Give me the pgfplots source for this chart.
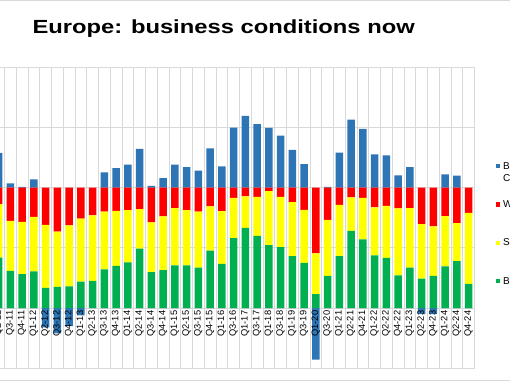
\documentclass[border=0pt]{standalone}
\usepackage{pgfplots}
\pgfplotsset{compat=1.18}
\usepackage{pgfplotstable}
\usepackage{graphicx}
\usepackage{fontspec}
\setmainfont{Liberation Sans}

\definecolor{cblue}{HTML}{2E75B6}
\definecolor{cred}{HTML}{FF0000}
\definecolor{cyel}{HTML}{FFFF00}
\definecolor{cgreen}{HTML}{00B050}
\definecolor{cgrid}{HTML}{D9D9D9}

\pgfplotstableread{
k   G     Y     R     Bp    Bn
-1  41.9  44.3  13.8  28.5  0
0   30.8  41.5  27.7  3.5   0
1   28.1  43.4  28.5  0.5   0
2   30.4  45.3  24.3  6.8   0
3   16.7  52.2  31.1  0     -16
4   17.6  45.7  36.7  0     -21
5   17.9  50.7  31.4  0     -15
6   22.0  52.1  25.9  0     -6
7   22.5  54.3  23.2  0     0
8   32.0  47.9  20.1  12.5  0
9   35.0  45.7  19.3  16    0
10  37.8  43.4  18.8  19    0
11  49.3  32.7  18.0  32    0
12  29.9  41.2  28.9  1.3   0
13  31.5  44.5  24.0  7.8   0
14  35.4  47.4  17.2  19    0
15  35.4  45.8  18.8  17    0
16  33.5  46.4  20.1  14    0
17  47.7  36.6  15.7  32.5  0
18  36.6  43.8  19.6  17.5  0
19  58.0  33.4  8.6   49.6  0
20  66.5  26.1  7.4   59.5  0
21  59.9  32.4  7.7   52.5  0
22  52.2  44.8  3.0   49.5  0
23  50.5  41.8  7.7   43    0
24  43.0  44.9  12.1  31.2  0
25  37.5  44.0  18.5  19.4  0
26  11.5  33.8  54.7  0     -42.8
27  26.7  46.5  26.8  0.5   0
28  43.0  42.6  14.4  29    0
29  64.0  27.8  8.2   56.3  0
30  56.9  34.5  8.6   48.6  0
31  43.6  39.9  16.5  27.6  0
32  41.6  43.2  15.2  26.6  0
33  27.0  55.6  17.4  10    0
34  33.6  49.3  17.1  17    0
35  24.5  45.1  30.4  0     -5
36  26.7  41.0  32.3  0     -5
37  34.5  41.7  23.8  11    0
38  38.9  31.5  29.6  9.8   0
39  20.0  59.0  21.0  0     0
}\data

\pgfplotsset{
  common/.style={scale only axis, width=481.75pt, height=301.3pt,
    xmin=-1.5, xmax=39.5, ymin=-50, ymax=200,
    at={(-7.25pt,13.7pt)}, anchor=south west},
  sqleg/.style={legend image code/.code={\fill[##1] (0pt,-2.2pt) rectangle (4.4pt,2.2pt);}},
}
\newcommand\lt[1]{\rule{0pt}{7.5pt}#1}

\begin{document}
\begin{tikzpicture}
\useasboundingbox (0,0) rectangle (510pt,382pt);
\clip (0,0) rectangle (510pt,382pt);
\draw[cgrid, line width=1pt] (0,381.2pt) -- (510pt,381.2pt);
\draw[cgrid, line width=1pt] (0,1.2pt) -- (510pt,1.2pt);
\node[anchor=base west, inner sep=0pt, font=\bfseries\fontsize{19}{22}\selectfont] at (32.3pt,348.3pt) {\scalebox{1.25}[1]{Europe: business conditions now}};

\begin{axis}[common,
  axis line style={cgrid, line width=0.8pt},
  xtick={-1.5,-0.5,...,39.5}, ytick={-50,0,...,200},
  xmajorgrids, ymajorgrids, grid style={cgrid, line width=0.8pt},
  xticklabels={}, yticklabels={}, major tick length=0pt,
  ybar, bar width=7.4pt]
\addplot[fill=cblue, draw=none] table[x=k,y=Bn]{\data};
\end{axis}

\begin{axis}[common,
  axis x line=middle, axis y line=none,
  x axis line style={-, draw=none},
  ybar stacked, bar width=7.4pt,
  xtick={-1,0,...,39},
  xticklabels={Q2-11,Q3-11,Q4-11,Q1-12,Q2-12,Q3-12,Q4-12,Q1-13,Q2-13,Q3-13,Q4-13,Q1-14,Q2-14,Q3-14,Q4-14,Q1-15,Q2-15,Q3-15,Q4-15,Q1-16,Q3-16,Q1-17,Q3-17,Q1-18,Q3-18,Q1-19,Q3-19,Q1-20,Q3-20,Q1-21,Q2-21,Q4-21,Q1-22,Q2-22,Q4-22,Q1-23,Q2-23,Q4-23,Q1-24,Q2-24,Q4-24},
  major tick length=0pt,
  xticklabel style={rotate=90, anchor=east, font=\fontsize{9.3}{10}\selectfont, inner sep=2.5pt},
  ytick=\empty,
  reverse legend, legend cell align=left,
  legend style={at={(axis description cs:1.0435,0.687)}, anchor=north west,
    draw=none, fill=none, inner sep=0pt, row sep=29.4pt, column sep=3pt,
    nodes={inner sep=0pt}, font=\fontsize{10}{12}\selectfont},
]
\addplot[fill=cgreen, draw=none, sqleg] table[x=k,y=G]{\data};
\addlegendentry{\lt{Better}}
\addplot[fill=cyel, draw=none, sqleg] table[x=k,y=Y]{\data};
\addlegendentry{\lt{Same}}
\addplot[fill=cred, draw=none, sqleg] table[x=k,y=R]{\data};
\addlegendentry{\lt{Worse}}
\addplot[fill=cblue, draw=none, sqleg] table[x=k,y=Bp]{\data};
\addlegendentry{\lt{\smash{\begin{tabular}[t]{@{}l@{}}Balance\\Conditions\end{tabular}}}}
\end{axis}
\end{tikzpicture}
\end{document}
